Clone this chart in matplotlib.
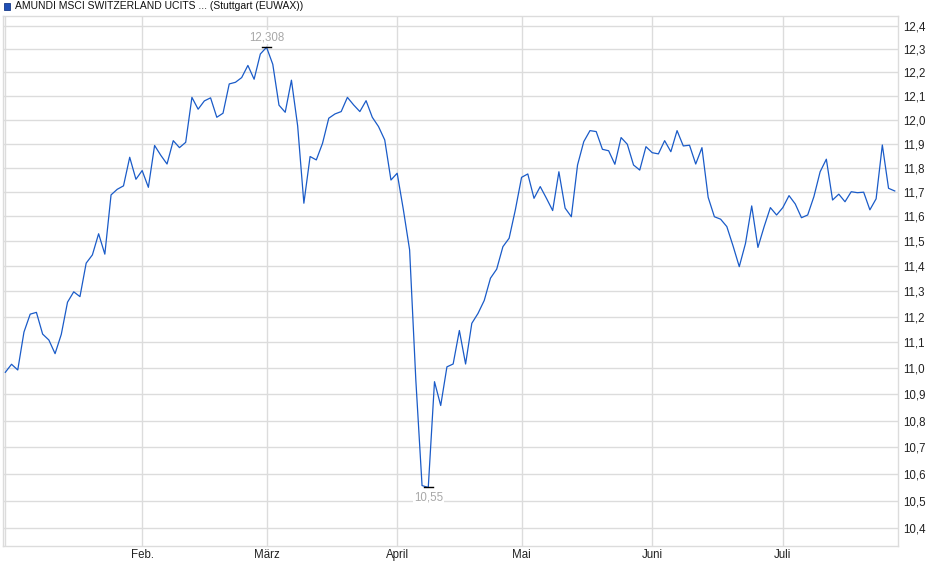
import numpy as np
import pandas as pd
import matplotlib
matplotlib.use("Agg")
import matplotlib.pyplot as plt
from matplotlib.patches import Rectangle
from matplotlib.ticker import FixedLocator, FuncFormatter, NullLocator

plt.rcParams['font.family'] = ['Liberation Sans', 'DejaVu Sans']

# trading days (Stuttgart), Jan 2 - Jul 25 2025
holidays = ['2025-04-18', '2025-04-21', '2025-05-01']
dates = pd.bdate_range('2025-01-02', '2025-07-25')
dates = dates[~dates.isin(pd.to_datetime(holidays))]

prices = [
    10.984, 11.015, 10.993, 11.140, 11.210, 11.217, 11.132, 11.109, 11.056, 11.131,
    11.257, 11.298, 11.279, 11.412, 11.445, 11.530, 11.448, 11.688, 11.711, 11.725,
    11.843, 11.752, 11.788, 11.719, 11.892, 11.851, 11.815, 11.912, 11.883, 11.905,
    12.094, 12.044, 12.079, 12.092, 12.010, 12.027, 12.151, 12.158, 12.178, 12.230,
    12.171, 12.279, 12.308, 12.235, 12.061, 12.031, 12.167, 11.974, 11.654, 11.846,
    11.832, 11.901, 12.006, 12.024, 12.034, 12.094, 12.062, 12.034, 12.080, 12.010,
    11.971, 11.915, 11.749, 11.777, 11.627, 11.465, 10.954, 10.557, 10.550, 10.948,
    10.857, 11.005, 11.016, 11.146, 11.016, 11.174, 11.213, 11.264, 11.352, 11.388,
    11.478, 11.512, 11.627, 11.760, 11.774, 11.674, 11.722, 11.674, 11.624, 11.783,
    11.634, 11.599, 11.811, 11.908, 11.954, 11.950, 11.876, 11.870, 11.814, 11.925,
    11.897, 11.811, 11.790, 11.887, 11.862, 11.857, 11.912, 11.866, 11.954, 11.890,
    11.893, 11.815, 11.883, 11.678, 11.599, 11.589, 11.559, 11.481, 11.398, 11.491,
    11.643, 11.475, 11.559, 11.636, 11.606, 11.636, 11.685, 11.651, 11.595, 11.606,
    11.681, 11.783, 11.835, 11.667, 11.691, 11.660, 11.701, 11.697, 11.699, 11.627,
    11.672, 11.894, 11.715, 11.704,
]

month_labels = ["", "Feb.", "März", "April", "Mai", "Juni", "Juli"]
y_ticks = [10.4, 10.5, 10.6, 10.7, 10.8, 10.9, 11.0, 11.1, 11.2, 11.3, 11.4,
           11.5, 11.6, 11.7, 11.8, 11.9, 12.0, 12.1, 12.2, 12.3, 12.4]
title = "AMUNDI MSCI SWITZERLAND UCITS ... (Stuttgart (EUWAX))"

x = np.arange(len(prices))
y = np.array(prices)
months = dates.month
month_pos = [0] + [i for i in range(1, len(dates)) if months[i] != months[i - 1]]

grid_c = '#dcdcdc'
line_c = '#1a5bc8'
note_c = '#a8a8a8'

fig = plt.figure(figsize=(9.4, 5.79), dpi=100)
ax = fig.add_axes([2.7 / 940, 1 - 545.7 / 579, (898 - 2.7) / 940, (545.7 - 16) / 579])

ax.plot(x, y, color=line_c, linewidth=0.9, zorder=3)

ax.set_yscale('log')
ax.set_ylim(10.337, 12.4435)
ax.set_xlim(-0.42, 143.52)
ax.yaxis.set_major_locator(FixedLocator(y_ticks))
ax.yaxis.set_minor_locator(NullLocator())
ax.yaxis.set_major_formatter(FuncFormatter(lambda v, p: f"{v:.1f}".replace('.', ',')))
ax.yaxis.tick_right()
ax.set_xticks(month_pos)
ax.set_xticklabels(month_labels)

ax.tick_params(axis='both', length=0, labelsize=8.3, colors='#222222')
ax.tick_params(axis='y', pad=3.5)
ax.tick_params(axis='x', pad=2.5)
ax.grid(True, color=grid_c, linewidth=1.0, zorder=0)
for s in ax.spines.values():
    s.set_color(grid_c)
    s.set_linewidth(1.0)

# high / low markers
i_hi = int(np.argmax(y))
i_lo = int(np.argmin(y))
for i, dy in [(i_hi, 10), (i_lo, -10.5)]:
    ax.plot([i - 0.75, i + 0.75], [y[i], y[i]], color='black', linewidth=1.0, zorder=4)
    lab = f"{y[i]:.3f}".rstrip('0').replace('.', ',')
    ax.annotate(lab, (i, y[i]), xytext=(0, dy * 0.72), textcoords='offset points',
                ha='center', va='center', fontsize=8.3, color=note_c, zorder=5,
                bbox=dict(boxstyle='square,pad=0.1', fc='white', ec='none'))

# legend square + title
fig.patches.append(Rectangle((3.5 / 940, 1 - 9.5 / 579), 6.5 / 940, 6.5 / 579,
                             transform=fig.transFigure, fc='#1f4fb5', ec='#163a88', lw=0.6))
fig.text(15 / 940, 1 - 6.3 / 579, title, fontsize=7.5, color='#111111', va='center', ha='left')

fig.savefig("out.png", dpi=100)
